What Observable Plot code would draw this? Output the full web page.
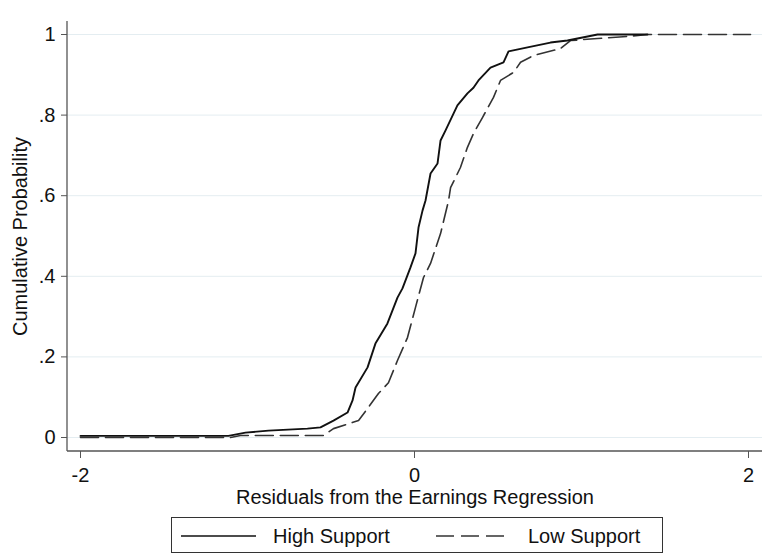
<!DOCTYPE html>
<html>
<head>
<meta charset="utf-8">
<script src="https://cdn.jsdelivr.net/npm/d3@7"></script>
<script src="https://cdn.jsdelivr.net/npm/@observablehq/plot@0.6"></script>
<style>
  html, body { margin: 0; padding: 0; background: #fff; }
  #wrap { position: relative; width: 768px; height: 553px; font-family: "Liberation Sans", Arial, sans-serif; }
  #legend { position: absolute; left: 171px; top: 517px; width: 492px; height: 36px; border: 1px solid #333; box-sizing: border-box; background: #fff; }
  #legend svg { position: absolute; left: 0; top: 0; }
  #legend span { position: absolute; top: 7px; font-size: 20px; line-height: 22px; color: #111; }
</style>
</head>
<body>
<div id="wrap"></div>
<script>
// ---- data ----
const highX = [-2.0, -1.114, -1.012, -0.874, -0.641, -0.563, -0.485, -0.401, -0.371, -0.353, -0.281, -0.234, -0.162, -0.102, -0.072, -0.024, 0.006, 0.024, 0.048, 0.066, 0.096, 0.138, 0.156, 0.186, 0.257, 0.317, 0.353, 0.383, 0.455, 0.533, 0.563, 0.677, 0.814, 0.916, 1.036, 1.096, 1.395];
const highY = [0.004, 0.004, 0.012, 0.017, 0.022, 0.025, 0.042, 0.062, 0.092, 0.124, 0.174, 0.233, 0.283, 0.347, 0.370, 0.422, 0.457, 0.521, 0.563, 0.588, 0.655, 0.680, 0.737, 0.762, 0.824, 0.854, 0.868, 0.886, 0.918, 0.931, 0.958, 0.968, 0.980, 0.985, 0.995, 1.0, 1.0];
const lowX = [-2.0, -1.102, -1.042, -0.743, -0.545, -0.485, -0.335, -0.281, -0.216, -0.156, -0.102, -0.042, 0.006, 0.054, 0.096, 0.156, 0.204, 0.216, 0.275, 0.317, 0.353, 0.407, 0.473, 0.515, 0.593, 0.635, 0.713, 0.874, 0.934, 1.096, 1.275, 1.395, 2.012];
const lowY = [0.0, 0.0, 0.005, 0.005, 0.005, 0.022, 0.042, 0.072, 0.109, 0.136, 0.191, 0.248, 0.323, 0.397, 0.432, 0.506, 0.588, 0.620, 0.670, 0.720, 0.754, 0.794, 0.844, 0.886, 0.906, 0.931, 0.948, 0.965, 0.985, 0.990, 0.995, 1.0, 1.0];
const seriesNames = ["High Support", "Low Support"];
const xTicks = [-2, 0, 2];
const xTickLabels = ["-2", "0", "2"];
const yTicks = [0, 0.2, 0.4, 0.6, 0.8, 1];
const yTickLabels = ["0", ".2", ".4", ".6", ".8", "1"];
const xTitle = "Residuals from the Earnings Regression";
const yTitle = "Cumulative Probability";

const high = highX.map((x, i) => ({x, y: highY[i]}));
const low = lowX.map((x, i) => ({x, y: lowY[i]}));

const W = 768, H = 510, mL = 67, mR = 6, mT = 21, mB = 59;
const DASH = "18,7";

const chart = Plot.plot({
  width: W, height: H,
  marginLeft: mL, marginRight: mR, marginTop: mT, marginBottom: mB,
  x: {domain: [-2, 2], insetLeft: 13, insetRight: 14},
  y: {domain: [0, 1], insetTop: 13, insetBottom: 14},
  style: {fontFamily: "'Liberation Sans', Arial, sans-serif", fontSize: "20px", color: "#111", background: "#fff"},
  marks: [
    Plot.gridY(yTicks, {stroke: "#e4edf1", strokeOpacity: 1, strokeWidth: 1}),
    Plot.axisY(yTicks, {
      tickSize: 6, tickPadding: 6, fontSize: 20, stroke: "#555",
      tickFormat: (d) => yTickLabels[yTicks.indexOf(d)],
      label: yTitle, labelAnchor: "center", labelOffset: 55, labelArrow: "none"
    }),
    Plot.axisX(xTicks, {
      tickSize: 7, tickPadding: 9, fontSize: 20, stroke: "#555",
      tickFormat: (d) => xTickLabels[xTicks.indexOf(d)],
      label: xTitle, labelAnchor: "center", labelOffset: 52, labelArrow: "none"
    }),
    Plot.line(low, {x: "x", y: "y", stroke: "#333", strokeWidth: 1.6, strokeDasharray: DASH}),
    Plot.line(high, {x: "x", y: "y", stroke: "#111", strokeWidth: 1.9})
  ]
});

// axis lines (left and bottom), Stata-style
const svg = d3.select(chart.tagName.toLowerCase() === "svg" ? chart : chart.querySelector("svg"));
svg.append("line").attr("x1", mL).attr("x2", mL).attr("y1", mT).attr("y2", H - mB)
  .attr("stroke", "#555").attr("stroke-width", 1.3);
svg.append("line").attr("x1", mL).attr("x2", W - mR).attr("y1", H - mB).attr("y2", H - mB)
  .attr("stroke", "#555").attr("stroke-width", 1.3);

const wrap = document.getElementById("wrap");
wrap.appendChild(chart);

// legend
const legend = document.createElement("div");
legend.id = "legend";
legend.innerHTML = `
  <svg width="492" height="36">
    <line x1="9" x2="84" y1="18" y2="18" stroke="#111" stroke-width="1.6"></line>
    <line x1="264" x2="338" y1="18" y2="18" stroke="#333" stroke-width="1.6" stroke-dasharray="${DASH}"></line>
  </svg>
  <span style="left:101px">${seriesNames[0]}</span>
  <span style="left:356px">${seriesNames[1]}</span>`;
wrap.appendChild(legend);
</script>
</body>
</html>
